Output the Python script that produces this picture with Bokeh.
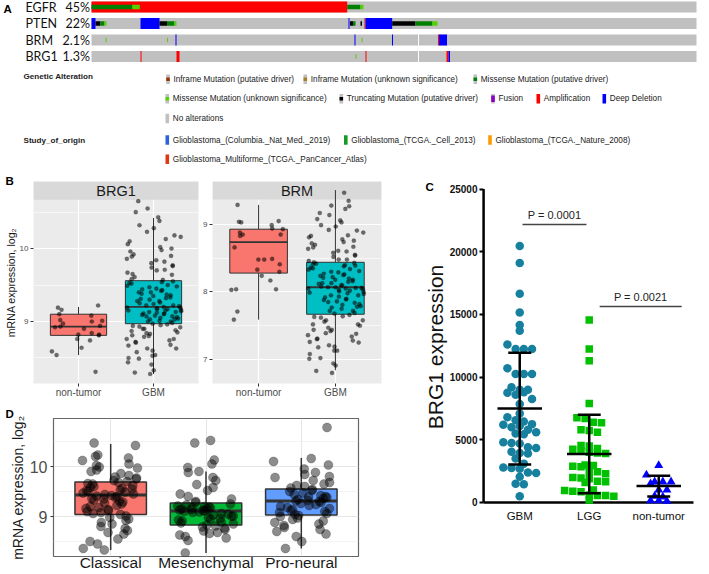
import numpy as np
from bokeh.plotting import figure
from bokeh.layouts import column, row
from bokeh.models import Range1d, FixedTicker, Label
from bokeh.embed import file_html
from bokeh.resources import INLINE

SANS = "Liberation Sans"
HUM = "Lato"
COMMON = dict(output_backend="svg", toolbar_location=None)

# ======================= DATA =======================
# ---- Panel A: oncoprint (sample index along each track) ----
genes = ["EGFR", "PTEN", "BRM", "BRG1"]
gene_pct = ["45%", "22%", "2.1%", "1.3%"]
n_samples = 605
ev_gene = [0, 0, 0, 0, 0,
           1, 1, 1, 1, 1, 1, 1, 1, 1, 1, 1, 1, 1, 1, 1, 1, 1,
           2, 2, 2, 2, 2, 2, 2, 2,
           3, 3, 3, 3, 3, 3]
ev_start = [0, 0, 40.7, 255.7, 269,
            0, 4, 9, 13, 49, 68, 75.5, 83, 257, 258.5, 261.5, 269, 273, 274, 300.7, 324, 341,
            14, 75.5, 84, 263, 270, 300.5, 346.5, 347.5,
            49, 85, 264, 274, 355, 357]
ev_end = [255.7, 40.7, 48.3, 269, 272,
          4, 9, 13, 15, 68, 75.5, 83, 85, 258, 261.5, 264, 270.5, 274, 300.7, 324, 341, 346,
          15, 76.5, 85, 264, 271, 301.5, 347.5, 355.5,
          50, 88, 265, 275, 357, 358.5]
ev_type = ["amp", "mis_d", "mis_v", "mis_d", "mis_v",
           "del", "trunc", "mis_d", "mis_v", "del", "trunc", "mis_d", "mis_v", "del", "trunc",
           "mis_d", "trunc", "amp", "del", "trunc", "mis_d", "mis_v",
           "mis_v", "mis_v", "del", "del", "mis_v", "del", "amp", "del",
           "amp", "amp", "mis_v", "amp", "amp", "del"]
np_gene = [2, 3]
np_start = [326.5, 326.5]
np_end = [327.5, 327.5]

alt_labels = ["Inframe Mutation (putative driver)", "Inframe Mutation (unknown significance)",
              "Missense Mutation (putative driver)", "Missense Mutation (unknown significance)",
              "Truncating Mutation (putative driver)", "Fusion", "Amplification", "Deep Deletion",
              "No alterations"]
alt_kinds = ["inf_d", "inf_v", "mis_d", "mis_v", "trunc", "fusion", "amp", "del", "none"]
study_labels = ["Glioblastoma_(Columbia._Nat_Med._2019)", "Glioblastoma_(TCGA._Cell_2013)",
                "Glioblastoma_(TCGA._Nature_2008)", "Glioblastoma_Multiforme_(TCGA._PanCancer_Atlas)"]
study_colors = ["#2E62D8", "#159A26", "#FF9900", "#DC3912"]

# ---- Panel B: mRNA expression (log2) ----
b_groups = ["non-tumor", "GBM"]
brg1_nontumor = [9.19, 9.22, 9.16, 9.10, 9.08, 9.01, 9.00, 9.02, 8.97, 8.94, 8.93, 8.92, 8.90,
                 8.84, 8.82, 8.82, 8.81, 8.76, 8.74, 8.64, 8.59, 8.54, 8.31]
brg1_gbm = [8.28, 8.30, 8.33, 8.41, 8.44, 8.49, 8.50, 8.53, 8.54, 8.58, 8.60, 8.63, 8.63, 8.67, 8.68,
            8.71, 8.72, 8.74, 8.76, 8.76, 8.79, 8.80, 8.81, 8.83, 8.84, 8.85, 8.87, 8.88, 8.90, 8.90,
            8.92, 8.93, 8.94, 8.95, 8.96, 8.97, 8.98, 9.00, 9.00, 9.01, 9.03, 9.03, 9.04, 9.05, 9.06,
            9.07, 9.07, 9.08, 9.09, 9.10, 9.11, 9.11, 9.12, 9.13, 9.13, 9.14, 9.15, 9.15, 9.16, 9.17,
            9.17, 9.18, 9.19, 9.19, 9.20, 9.21, 9.22, 9.22, 9.24, 9.25, 9.26, 9.28, 9.28, 9.30, 9.31,
            9.32, 9.33, 9.35, 9.36, 9.37, 9.38, 9.40, 9.40, 9.42, 9.43, 9.44, 9.45, 9.47, 9.48, 9.49,
            9.50, 9.52, 9.53, 9.54, 9.55, 9.57, 9.58, 9.61, 9.64, 9.65, 9.67, 9.70, 9.71, 9.74, 9.76,
            9.77, 9.80, 9.82, 9.84, 9.86, 9.89, 9.90, 9.92, 9.96, 9.98, 10.00, 10.02, 10.06, 10.10,
            10.13, 10.16, 10.18, 10.23, 10.28, 10.32, 10.38, 10.43, 10.50, 10.55, 10.65]
brg1_stats = dict(lo=[8.54, 8.28], q1=[8.81, 8.97], med=[8.93, 9.20], q3=[9.10, 9.56], hi=[9.20, 10.42])
brm_nontumor = [9.29, 9.05, 9.03, 9.04, 8.99, 8.93, 8.94, 8.88, 8.85, 8.85, 8.83, 8.66, 8.48, 8.49,
                8.48, 8.41, 8.30, 8.33, 8.17, 8.24, 8.03, 8.04, 8.04, 7.71, 7.59]
brm_gbm = [6.80, 6.83, 6.91, 6.94, 7.01, 7.02, 7.08, 7.13, 7.13, 7.18, 7.19, 7.21, 7.25, 7.26, 7.28,
           7.31, 7.30, 7.34, 7.36, 7.38, 7.39, 7.42, 7.44, 7.44, 7.47, 7.50, 7.52, 7.52, 7.56, 7.58,
           7.58, 7.62, 7.63, 7.64, 7.66, 7.68, 7.69, 7.72, 7.72, 7.75, 7.77, 7.78, 7.79, 7.81, 7.82,
           7.84, 7.85, 7.86, 7.88, 7.89, 7.90, 7.92, 7.93, 7.95, 7.95, 7.97, 7.98, 7.99, 8.00, 8.01,
           8.02, 8.03, 8.04, 8.05, 8.05, 8.06, 8.06, 8.07, 8.07, 8.08, 8.10, 8.10, 8.12, 8.13, 8.13,
           8.15, 8.16, 8.18, 8.18, 8.20, 8.21, 8.22, 8.24, 8.25, 8.26, 8.27, 8.29, 8.30, 8.31, 8.33,
           8.34, 8.35, 8.36, 8.38, 8.39, 8.40, 8.41, 8.42, 8.43, 8.44, 8.46, 8.48, 8.48, 8.52, 8.54,
           8.55, 8.58, 8.60, 8.61, 8.64, 8.66, 8.67, 8.70, 8.72, 8.74, 8.76, 8.78, 8.81, 8.83, 8.84,
           8.88, 8.91, 8.92, 8.97, 8.99, 9.03, 9.06, 9.08, 9.14, 9.17, 9.23, 9.27, 9.28, 9.35, 9.47]
brm_stats = dict(lo=[7.59, 6.84], q1=[8.28, 7.67], med=[8.74, 8.07], q3=[8.93, 8.44], hi=[9.29, 9.51])

# ---- Panel C: BRG1 expression ----
c_groups = ["GBM", "LGG", "non-tumor"]
c_gbm = [20450, 19100, 16650, 15150, 14150, 13700, 12600, 12250, 12250, 12250, 10700, 10250, 10250,
         10250, 9200, 9000, 9000, 8750, 8600, 8800, 8250, 7850, 7100, 6800, 6550, 6450, 6200, 6250,
         6000, 6100, 5800, 5600, 5500, 5450, 4800, 4750, 4700, 4400, 4350, 4050, 3950, 3900, 3500,
         3100, 2800, 2750, 2700, 2400, 2350, 2050, 1500, 1450, 500]
c_lgg = [14550, 12250, 11300, 7900, 6750, 6700, 6400, 6350, 5800, 5750, 5600, 4550, 4500, 4300, 4250,
         4100, 4000, 3950, 3900, 3000, 2950, 2900, 2850, 2500, 2450, 2300, 2000, 1950, 1900, 1700,
         1650, 1600, 1000, 950, 900, 850, 600, 550, 550, 500, 200]
c_nontumor = [2950, 2200, 1650, 1650, 1650, 1500, 1000, 1000, 500, 450, 150, 150, 100]
c_mean = [7490, 3870, 1310]
c_sd = [4450, 3130, 830]
c_pvals = ["P = 0.0001", "P = 0.0021"]
c_p_from = [1.04, 2.15]
c_p_to = [1.96, 3.33]
c_p_level = [22170, 15630]

# ---- Panel D: subtypes ----
d_groups = ["Classical", "Mesenchymal", "Pro-neural"]
d_colors = ["#F8766D", "#00BA38", "#619CFF"]
d_classical = [10.47, 10.42, 10.23, 10.20, 10.17, 10.12, 10.05, 10.02, 9.99, 9.97, 9.93, 9.90, 9.86,
               9.82, 9.79, 9.77, 9.75, 9.72, 9.70, 9.68, 9.66, 9.65, 9.62, 9.60, 9.58, 9.56, 9.55,
               9.53, 9.52, 9.50, 9.49, 9.47, 9.45, 9.44, 9.42, 9.41, 9.40, 9.38, 9.36, 9.35, 9.33,
               9.31, 9.29, 9.27, 9.25, 9.22, 9.20, 9.18, 9.16, 9.14, 9.12, 9.10, 9.08, 9.06, 9.04,
               9.01, 8.98, 8.95, 8.92, 8.88, 8.85, 8.80, 8.76, 8.72, 8.68, 8.65, 8.55, 8.50, 8.45,
               8.36, 8.33]
d_mesenchymal = [10.52, 10.47, 10.13, 10.05, 9.98, 9.90, 9.88, 9.78, 9.72, 9.64, 9.58, 9.52, 9.45,
                 9.40, 9.35, 9.30, 9.28, 9.25, 9.23, 9.21, 9.20, 9.19, 9.18, 9.17, 9.16, 9.15, 9.14,
                 9.13, 9.12, 9.11, 9.10, 9.09, 9.08, 9.06, 9.05, 9.03, 9.01, 9.00, 8.98, 8.96, 8.95,
                 8.93, 8.91, 8.89, 8.87, 8.85, 8.83, 8.81, 8.79, 8.77, 8.74, 8.71, 8.68, 8.66, 8.63,
                 8.60, 8.57, 8.52, 8.27]
d_proneural = [10.78, 10.16, 10.10, 10.03, 9.95, 9.88, 9.84, 9.80, 9.78, 9.72, 9.68, 9.65, 9.62,
               9.60, 9.57, 9.54, 9.52, 9.50, 9.47, 9.44, 9.42, 9.40, 9.39, 9.38, 9.36, 9.34, 9.32,
               9.31, 9.30, 9.28, 9.26, 9.24, 9.22, 9.20, 9.18, 9.16, 9.14, 9.12, 9.10, 9.08, 9.06,
               9.04, 9.02, 9.00, 8.97, 8.94, 8.91, 8.88, 8.85, 8.82, 8.78, 8.74, 8.70, 8.65, 8.60,
               8.50, 8.36]
d_stats = dict(lo=[8.33, 8.27, 8.36], q1=[9.04, 8.83, 9.03], med=[9.43, 9.11, 9.31],
               q3=[9.69, 9.27, 9.55], hi=[10.45, 9.90, 10.17])

# ======================= STYLE =======================
ALT = {"amp": "#FF0000", "del": "#0000FF", "mis_d": "#008000", "mis_v": "#53D400",
       "trunc": "#000000", "fusion": "#8B00C9", "inf_d": "#993404", "inf_v": "#A68028",
       "none": "#C0C0C0"}
GRAY = "#C0C0C0"
TXT = "#222222"


def jitter(n, half, phase=0.0):
    # deterministic, irregular-looking horizontal spread (quadratic Weyl sequence)
    k = np.arange(n, dtype=float)
    u = (0.5 * k * k * 0.6180339887 + k * 0.4142135623 + phase) % 1.0
    return (u - 0.5) * 2 * half


def letter(p, text, offset, standoff):
    p.title.text = text
    p.title.align = "left"
    p.title.offset = offset
    p.title.standoff = standoff
    p.title.text_font = SANS
    p.title.text_font_size = "11.5px"
    p.title.text_font_style = "bold"
    p.title.text_color = "black"


# ======================= PANEL A (tracks + legend in one frame) =======================
A_H = 164
ROW0, ROWSTEP, TRACK_X0 = 6.5, 16.5, 91.0


def ay(py):  # layout helper: canvas pixel row -> track units
    return (py - ROW0) / ROWSTEP


def ax(px):  # layout helper: canvas pixel column -> sample units
    return px - TRACK_X0


pa = figure(width=709, height=A_H, x_range=Range1d(ax(0), ax(709)), y_range=Range1d(ay(A_H), ay(0)),
            x_axis_location=None, y_axis_location=None, min_border_left=0, min_border_right=0,
            min_border_top=0, min_border_bottom=0, outline_line_color=None, **COMMON)
pa.grid.visible = False
gidx = list(range(len(genes)))
TH = 11 / ROWSTEP
pa.hbar(y=gidx, left=0, right=n_samples, height=TH, fill_color=GRAY, line_color=None)
pa.hbar(y=np_gene, left=np_start, right=np_end, height=TH, fill_color="white", line_color=None)
ev_h = [TH if t in ("amp", "del") else 4.3 / ROWSTEP for t in ev_type]
pa.hbar(y=ev_gene, left=ev_start, right=ev_end, height=ev_h,
        fill_color=[ALT[t] for t in ev_type], line_color=None)
for i, (g, pct) in enumerate(zip(genes, gene_pct)):
    pa.add_layout(Label(x=ax(25), y=i, text=g, text_font=HUM, text_font_size="12.5px",
                        text_color="#111111", text_baseline="middle"))
    pa.add_layout(Label(x=ax(89.5), y=i, text=pct, text_font=HUM, text_font_size="12.5px",
                        text_color="#111111", text_baseline="middle", text_align="right"))
pa.add_layout(Label(x=ax(3), y=ay(8.5), text="A", text_font=SANS, text_font_size="11.5px",
                    text_font_style="bold", text_color="black", text_baseline="middle"))

rows_y = [78.7, 98.3, 118, 139.5, 158.8]
alt_x = [165.7, 303, 473, 165, 339, 490.7, 536, 602, 165]
alt_row = [0, 0, 0, 1, 1, 1, 1, 1, 2]
SW, SH = 3.6, 9.5


def swatch(xpx, ypx, fill, inner=None, ih=0.0):
    pa.quad(left=ax(xpx), right=ax(xpx + SW), top=ay(ypx - SH / 2), bottom=ay(ypx + SH / 2),
            fill_color=fill, line_color=None)
    if inner is not None:
        pa.quad(left=ax(xpx), right=ax(xpx + SW), top=ay(ypx - ih / 2), bottom=ay(ypx + ih / 2),
                fill_color=inner, line_color=None)


def leg_text(xpx, ypx, text, bold=False):
    pa.add_layout(Label(x=ax(xpx), y=ay(ypx), text=text, text_font=SANS,
                        text_font_size="8.1px" if bold else "8.2px",
                        text_font_style="bold" if bold else "normal",
                        text_color=TXT, text_baseline="middle"))


for lab, kind, x, r in zip(alt_labels, alt_kinds, alt_x, alt_row):
    y = rows_y[r]
    if kind in ("amp", "del", "none"):
        swatch(x, y, ALT[kind])
    else:
        swatch(x, y, GRAY, ALT[kind], 6.5 if kind == "fusion" else 3.4)
    leg_text(x + 7.3, y, lab)
study_x = [165, 343.5, 487.7, 165]
study_row = [3, 3, 3, 4]
for lab, col, x, r in zip(study_labels, study_colors, study_x, study_row):
    swatch(x, rows_y[r], col)
    leg_text(x + 7.3, rows_y[r], lab)
leg_text(23, 76, "Genetic Alteration", bold=True)
leg_text(23, 140, "Study_of_origin", bold=True)


# ======================= PANEL B =======================
def gg_facet(width, left, right, yr, strip_lo, ticks, minor, title, vals, stats):
    p = figure(width=width, height=236, x_range=Range1d(0.4, 2.6), y_range=Range1d(*yr),
               min_border_left=left, min_border_right=right, min_border_top=17, min_border_bottom=17,
               background_fill_color="#EBEBEB", outline_line_color=None, **COMMON)
    p.xgrid.ticker = FixedTicker(ticks=[1, 2])
    p.ygrid.ticker = FixedTicker(ticks=ticks, minor_ticks=minor)
    p.grid.grid_line_color = "white"
    p.grid.grid_line_width = 1.2
    p.ygrid.minor_grid_line_color = "white"
    p.ygrid.minor_grid_line_width = 0.6
    p.xaxis.ticker = FixedTicker(ticks=[1, 2])
    p.xaxis.major_label_overrides = {1: b_groups[0], 2: b_groups[1]}
    p.yaxis.ticker = FixedTicker(ticks=ticks)
    for a in (p.xaxis[0], p.yaxis[0]):
        a.axis_line_color = None
        a.major_tick_out = 3
        a.major_tick_in = 0
        a.minor_tick_out = 0
        a.minor_tick_in = 0
        a.major_tick_line_color = "#333333"
        a.major_label_text_font = SANS
        a.major_label_text_color = "#4D4D4D"
    p.xaxis.major_label_standoff = 0
    p.xaxis.major_label_text_font_size = "10px"
    p.yaxis.major_label_standoff = 2
    p.yaxis.major_label_text_font_size = "8px"
    p.quad(left=0.4, right=2.6, bottom=strip_lo, top=yr[1], fill_color="#D9D9D9", line_color=None)
    p.add_layout(Label(x=1.5, y=(strip_lo + yr[1]) / 2, text=title, text_font=SANS,
                       text_font_size="14.5px", text_color="#1A1A1A", text_align="center",
                       text_baseline="middle"))
    xs = np.array([1.0, 2.0])
    w = 0.75
    p.segment(x0=xs, y0=stats["lo"], x1=xs, y1=stats["q1"], line_color="#333333", line_width=1)
    p.segment(x0=xs, y0=stats["q3"], x1=xs, y1=stats["hi"], line_color="#333333", line_width=1)
    p.quad(left=xs - w / 2, right=xs + w / 2, bottom=stats["q1"], top=stats["q3"],
           fill_color=["#F8766D", "#00BFC4"], line_color="#333333", line_width=1)
    p.segment(x0=xs - w / 2, y0=stats["med"], x1=xs + w / 2, y1=stats["med"],
              line_color="#333333", line_width=1.8)
    for k, v in enumerate(vals):
        p.scatter(x=xs[k] + jitter(len(v), 0.37, 0.13 + 0.31 * k), y=v, size=4.2, fill_color="black",
                  fill_alpha=0.55, line_color="black", line_alpha=0.3, line_width=0.5)
    return p


pb1 = gg_facet(200, 33, 2, (8.15, 10.92), 10.67, [9, 10], [8.5, 9.5, 10.5], "BRG1",
               [brg1_nontumor, brg1_gbm], brg1_stats)
pb2 = gg_facet(218, 12, 37, (6.644, 9.637), 9.37, [7, 8, 9], [7.5, 8.5, 9.5], "BRM",
               [brm_nontumor, brm_gbm], brm_stats)
pb1.yaxis.axis_label = "mRNA expression, log\u2082"
pb1.yaxis.axis_label_standoff = 0
pb1.yaxis.axis_label_text_font = SANS
pb1.yaxis.axis_label_text_font_size = "10.6px"
pb1.yaxis.axis_label_text_font_style = "normal"
pb1.yaxis.axis_label_text_color = "#1A1A1A"
letter(pb1, "B", -28, -10)

# ======================= PANEL C =======================
PPU_X = 69.5
PPU_Y = 313.5 / 25000
pc = figure(width=291, height=410, x_range=Range1d(0.45, 3.529), y_range=Range1d(-319, 25120),
            min_border_left=63, min_border_right=14, min_border_top=23, min_border_bottom=68,
            outline_line_color=None, **COMMON)
pc.grid.visible = False
pc.yaxis.ticker = FixedTicker(ticks=[0, 5000, 10000, 15000, 20000, 25000])
pc.yaxis.axis_line_color = None
pc.yaxis.major_tick_out = 2
pc.yaxis.major_tick_in = 2
pc.yaxis.major_tick_line_width = 2
pc.yaxis.major_tick_line_color = "black"
pc.yaxis.minor_tick_out = 0
pc.yaxis.minor_tick_in = 0
pc.yaxis.major_label_standoff = 2
pc.yaxis.major_label_text_font = SANS
pc.yaxis.major_label_text_font_style = "bold"
pc.yaxis.major_label_text_font_size = "10px"
pc.yaxis.major_label_text_color = "#111111"
pc.yaxis.axis_label = "BRG1 expression"
pc.yaxis.axis_label_standoff = 0
pc.yaxis.axis_label_text_font = SANS
pc.yaxis.axis_label_text_font_size = "21px"
pc.yaxis.axis_label_text_font_style = "normal"
pc.yaxis.axis_label_text_color = "#111111"
pc.xaxis.ticker = FixedTicker(ticks=[1, 2, 3])
pc.xaxis.major_label_overrides = {i + 1: g for i, g in enumerate(c_groups)}
pc.xaxis.axis_line_color = None
pc.xaxis.major_tick_out = 0
pc.xaxis.major_tick_in = 0
pc.xaxis.minor_tick_out = 0
pc.xaxis.minor_tick_in = 0
pc.xaxis.major_label_standoff = 3
pc.xaxis.major_label_text_font = SANS
pc.xaxis.major_label_text_font_size = "11.5px"
pc.xaxis.major_label_text_color = "#111111"
pc.segment(x0=[0.48, 0.48], y0=[0, 0], x1=[0.48, 3.50], y1=[25000, 0], line_color="black", line_width=2.5)
letter(pc, "C", -56, -10)


def swarm(vals, d=8.2):
    v = np.asarray(vals, float)
    bins = np.round(v * PPU_Y / d).astype(int)
    off = np.zeros(len(v))
    for b in np.unique(bins):
        idx = np.where(bins == b)[0]
        n = len(idx)
        off[idx] = (np.arange(n) - (n - 1) / 2) * d / PPU_X
    return off


pc.scatter(x=1 + swarm(c_gbm), y=c_gbm, marker="circle", size=8.5, fill_color="#17809F", line_color=None)
pc.scatter(x=2 + swarm(c_lgg), y=c_lgg, marker="square", size=7.5, fill_color="#00C000", line_color=None)
pc.scatter(x=3 + swarm(c_nontumor), y=c_nontumor, marker="triangle", size=9, fill_color="#0000FF",
           line_color=None)
cx = np.array([1.0, 2.0, 3.0])
cm = np.array(c_mean, float)
cs = np.array(c_sd, float)
pc.segment(x0=cx - 0.32, y0=cm, x1=cx + 0.32, y1=cm, line_color="black", line_width=2.5)
pc.segment(x0=cx, y0=cm - cs, x1=cx, y1=cm + cs, line_color="black", line_width=2.5)
pc.segment(x0=cx - 0.165, y0=cm + cs, x1=cx + 0.165, y1=cm + cs, line_color="black", line_width=2.5)
pc.segment(x0=cx - 0.165, y0=cm - cs, x1=cx + 0.165, y1=cm - cs, line_color="black", line_width=2.5)
pc.segment(x0=c_p_from, y0=c_p_level, x1=c_p_to, y1=c_p_level, line_color="#444444", line_width=1.5)
for a, b, lev, t in zip(c_p_from, c_p_to, c_p_level, c_pvals):
    pc.add_layout(Label(x=(a + b) / 2, y=lev + 260, text=t, text_font=SANS, text_font_size="11px",
                        text_color="#222222", text_align="center", text_baseline="bottom"))

# ======================= PANEL D =======================
pdd = figure(width=418, height=174, x_range=Range1d(0.4, 3.6), y_range=Range1d(8.20, 10.96),
             min_border_left=53, min_border_right=60, min_border_top=18, min_border_bottom=18,
             background_fill_color="white", outline_line_color="#666666", outline_line_width=1.2,
             **COMMON)
pdd.xgrid.ticker = FixedTicker(ticks=[1, 2, 3])
pdd.ygrid.ticker = FixedTicker(ticks=[9, 10], minor_ticks=[8.5, 9.5, 10.5])
pdd.grid.grid_line_color = "#E6E6E6"
pdd.grid.grid_line_width = 1.1
pdd.ygrid.minor_grid_line_color = "#EFEFEF"
pdd.ygrid.minor_grid_line_width = 0.7
pdd.xaxis.ticker = FixedTicker(ticks=[1, 2, 3])
pdd.xaxis.major_label_overrides = {i + 1: g for i, g in enumerate(d_groups)}
pdd.yaxis.ticker = FixedTicker(ticks=[9, 10])
for a in (pdd.xaxis[0], pdd.yaxis[0]):
    a.axis_line_color = None
    a.major_tick_in = 0
    a.minor_tick_out = 0
    a.minor_tick_in = 0
    a.major_tick_line_color = "#333333"
    a.major_label_text_font = SANS
pdd.xaxis.major_tick_out = 0
pdd.xaxis.major_label_standoff = -3
pdd.xaxis.major_label_text_font_size = "15.5px"
pdd.xaxis.major_label_text_color = "#1A1A1A"
pdd.yaxis.major_tick_out = 3
pdd.yaxis.major_label_standoff = 3
pdd.yaxis.major_label_text_font_size = "16px"
pdd.yaxis.major_label_text_color = "#4D4D4D"
pdd.yaxis.axis_label = "mRNA expression, log\u2082"
pdd.yaxis.axis_label_standoff = 1
pdd.yaxis.axis_label_text_font = SANS
pdd.yaxis.axis_label_text_font_size = "14px"
pdd.yaxis.axis_label_text_font_style = "normal"
pdd.yaxis.axis_label_text_color = "#1A1A1A"
dx = np.array([1.0, 2.0, 3.0])
dw = 0.75
pdd.segment(x0=dx, y0=d_stats["lo"], x1=dx, y1=d_stats["q1"], line_color="#333333", line_width=1.5)
pdd.segment(x0=dx, y0=d_stats["q3"], x1=dx, y1=d_stats["hi"], line_color="#333333", line_width=1.5)
pdd.quad(left=dx - dw / 2, right=dx + dw / 2, bottom=d_stats["q1"], top=d_stats["q3"],
         fill_color=d_colors, line_color="#333333", line_width=1.5)
pdd.segment(x0=dx - dw / 2, y0=d_stats["med"], x1=dx + dw / 2, y1=d_stats["med"],
            line_color="#333333", line_width=3)
for k, v in enumerate([d_classical, d_mesenchymal, d_proneural]):
    pdd.scatter(x=dx[k] + jitter(len(v), 0.30, 0.21 + 0.37 * k), y=v, size=9, fill_color="black",
                fill_alpha=0.45, line_color="black", line_alpha=0.35, line_width=0.6)
letter(pdd, "D", -48, -2)

# ======================= LAYOUT =======================
layout = column(pa, row(column(row(pb1, pb2), pdd), pc))
open("out.html", "w").write(file_html(layout, INLINE))
